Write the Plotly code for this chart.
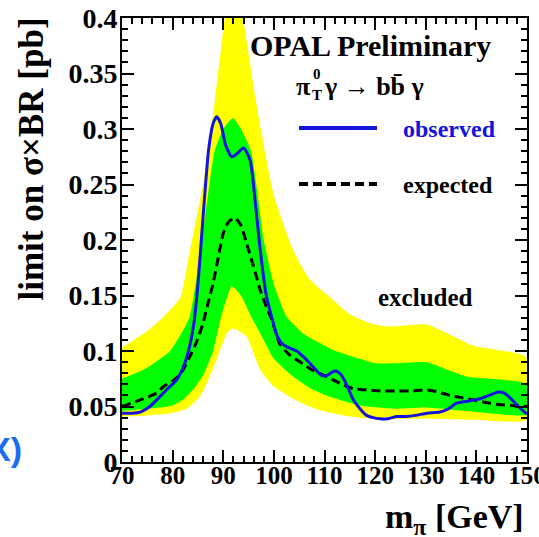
import plotly.graph_objects as go

# Mass points (GeV) and 95% CL limits on sigma x BR (pb)
obs_mass = [70, 72, 73.6, 75.5, 77.5, 79, 80.8, 82.4, 83.4, 84.2, 85, 86, 87.1, 88, 88.7,
            89.5, 90.5, 91.7, 92.8, 94, 95.3, 96.3, 97.3, 98.5, 99.9, 100.6, 101.5, 102.5,
            103.5, 104.5, 105.8, 107.1, 108.3, 109.4, 110.5, 111.5, 112.3, 113.2, 114, 115,
            115.7, 117, 118.3, 119.6, 121, 122.5, 124.3, 126, 128, 130.2, 132.8, 134.5,
            136.1, 138.5, 140.7, 142.5, 144.3, 145.5, 146.6, 148.3, 150]
obs_limit = [0.044, 0.044, 0.045, 0.050, 0.059, 0.066, 0.074, 0.089, 0.105, 0.125, 0.160,
             0.220, 0.281, 0.305, 0.311, 0.305, 0.285, 0.275, 0.278, 0.283, 0.272, 0.235,
             0.191, 0.150, 0.125, 0.114, 0.107, 0.104, 0.102, 0.100, 0.095, 0.089, 0.083,
             0.078, 0.078, 0.081, 0.082, 0.079, 0.073, 0.063, 0.056, 0.048, 0.042, 0.040,
             0.039, 0.039, 0.041, 0.041, 0.042, 0.044, 0.045, 0.048, 0.053, 0.055, 0.057,
             0.060, 0.063, 0.062, 0.058, 0.050, 0.043]

exp_mass = [70, 73.6, 76.8, 78.2, 80, 81.5, 83.4, 84.8, 86, 87.1, 88, 89, 90, 91, 92.3, 93.5,
            94.6, 96, 97.3, 98.5, 99.6, 101.2, 103, 105.2, 107.5, 110.4, 113, 115.7, 118.3,
            121, 124.3, 127, 130.2, 132.5, 134.8, 137, 139.3, 141.4, 144, 147, 150]
exp_limit = [0.050, 0.056, 0.062, 0.068, 0.073, 0.079, 0.095, 0.109, 0.125, 0.145, 0.161,
             0.184, 0.206, 0.216, 0.220, 0.213, 0.197, 0.176, 0.155, 0.140, 0.128, 0.106,
             0.097, 0.090, 0.083, 0.077, 0.071, 0.066, 0.065, 0.064, 0.064, 0.064, 0.065,
             0.063, 0.060, 0.058, 0.056, 0.054, 0.052, 0.051, 0.050]

# +-2 sigma band
band2_up_mass = [70, 75, 78, 81.5, 83.4, 86, 88, 90.3, 92, 93.9, 96.9, 100, 103.8, 107, 111.7,
                 115, 119.6, 123, 130, 139.3, 150]
band2_up = [0.103, 0.118, 0.130, 0.148, 0.190, 0.250, 0.313, 0.400, 0.450, 0.400, 0.313,
            0.240, 0.191, 0.165, 0.146, 0.133, 0.124, 0.122, 0.124, 0.105, 0.094]
band2_lo_mass = [70, 75, 79.5, 82.8, 85.4, 88.7, 90.7, 91.7, 92.8, 94.6, 97.3, 100, 103.8,
                 107, 110.4, 115, 120, 130, 140, 150]
band2_lo = [0.041, 0.042, 0.044, 0.048, 0.059, 0.092, 0.116, 0.120, 0.119, 0.113, 0.083,
            0.068, 0.057, 0.050, 0.045, 0.041, 0.039, 0.039, 0.038, 0.038]

# +-1 sigma band
band1_up_mass = [70, 75, 79.5, 83.3, 85.8, 88.3, 90, 91.9, 93.5, 95.5, 98, 100, 102.5, 106,
                 111.7, 117, 120, 124, 130, 138, 150]
band1_up = [0.075, 0.085, 0.100, 0.130, 0.200, 0.280, 0.300, 0.310, 0.300, 0.280, 0.200,
            0.160, 0.131, 0.115, 0.101, 0.093, 0.089, 0.089, 0.090, 0.077, 0.070]
band1_lo_mass = [70, 75, 80, 82, 84, 86, 88, 89.6, 91.7, 93.5, 95.5, 97.3, 100, 103.8, 107,
                 110.4, 117, 124.3, 130, 140, 150]
band1_lo = [0.046, 0.048, 0.051, 0.056, 0.065, 0.078, 0.100, 0.131, 0.158, 0.150, 0.131,
            0.116, 0.093, 0.077, 0.067, 0.060, 0.051, 0.048, 0.049, 0.045, 0.043]

YELLOW = "#ffff00"
GREEN = "#00ff00"
BLUE = "#1414dc"
SERIF = "Liberation Serif"

fig = go.Figure()

fig.add_trace(go.Scatter(
    x=band2_up_mass + band2_lo_mass[::-1], y=band2_up + band2_lo[::-1],
    fill="toself", fillcolor=YELLOW, mode="lines",
    line=dict(width=0, shape="spline", smoothing=0.5),
    hoverinfo="skip", showlegend=False))
fig.add_trace(go.Scatter(
    x=band1_up_mass + band1_lo_mass[::-1], y=band1_up + band1_lo[::-1],
    fill="toself", fillcolor=GREEN, mode="lines",
    line=dict(width=0, shape="spline", smoothing=0.5),
    hoverinfo="skip", showlegend=False))
fig.add_trace(go.Scatter(
    x=exp_mass, y=exp_limit, mode="lines",
    line=dict(color="black", width=3, dash="9px,5px", shape="spline", smoothing=0.6),
    showlegend=False))
fig.add_trace(go.Scatter(
    x=obs_mass, y=obs_limit, mode="lines",
    line=dict(color=BLUE, width=3, shape="spline", smoothing=0.6),
    showlegend=False))

# plot area in pixels: x 122..527, y 18..462
L, R, T, B = 122, 527, 18, 462


def px(xp):
    return (xp - L) / (R - L)


def py(yp):
    return (B - yp) / (B - T)


axis_common = dict(
    showline=True, linewidth=2, linecolor="black", mirror="ticks",
    ticks="inside", ticklen=12, tickwidth=2, tickcolor="black",
    showgrid=False, zeroline=False, ticklabeloverflow="allow", automargin=False,
)

fig.update_xaxes(range=[70, 150], tickvals=[70, 80, 90, 100, 110, 120, 130, 140, 150],
                 ticklabelstandoff=-10,
                 tickfont=dict(family=SERIF, size=25, color="black", weight="bold"),
                 minor=dict(ticks="inside", ticklen=6, tickwidth=1.5, dtick=2, tick0=70,
                            tickcolor="black", showgrid=False),
                 **axis_common)
fig.update_yaxes(range=[0, 0.4], dtick=0.05, tick0=0, ticklabelstandoff=-3,
                 tickfont=dict(family=SERIF, size=28, color="black", weight="bold"),
                 minor=dict(ticks="inside", ticklen=6, tickwidth=1.5, dtick=0.01,
                            tickcolor="black", showgrid=False),
                 **axis_common)

# legend samples
fig.add_shape(type="line", xref="paper", yref="paper",
              x0=px(299), x1=px(377), y0=py(128), y1=py(128),
              line=dict(color=BLUE, width=4))
fig.add_shape(type="line", xref="paper", yref="paper",
              x0=px(299), x1=px(377), y0=py(184), y1=py(184),
              line=dict(color="black", width=4, dash="9px,5px"))


def note(text, x, y, size, xanchor="left", color="black", **kw):
    fig.add_annotation(text=text, xref="paper", yref="paper", x=px(x), y=py(y),
                       xanchor=xanchor, yanchor="middle", showarrow=False,
                       font=dict(family=SERIF, size=size, color=color, weight="bold"),
                       **kw)


note("OPAL Preliminary", 370, 45, 30, xanchor="center")
note("π", 294, 86, 26)
note("0", 317, 74, 15, xanchor="center")
note("T", 317, 95, 15, xanchor="center")
note("γ → bb\u0304 γ", 322, 86, 26)
note("observed", 401, 129, 24, color=BLUE)
note("expected", 401, 185, 24)
note("excluded", 376, 297, 25)
note("m<sub>π</sub> [GeV]", 526, 519, 34, xanchor="right")

fig.add_annotation(text="limit on σ×BR [pb]", xref="paper", yref="paper",
                   x=px(31), y=py(16), xanchor="center", yanchor="top", textangle=-90,
                   showarrow=False,
                   font=dict(family=SERIF, size=35, color="black", weight="bold"))

fig.add_annotation(text="X)", xref="paper", yref="paper", x=px(24), y=py(449),
                   xanchor="right", yanchor="middle", showarrow=False,
                   font=dict(family="Liberation Sans", size=34, color="#1a6cf0",
                             weight="bold"))

fig.update_layout(
    width=539, height=537,
    margin=dict(l=L, r=539 - R, t=T, b=537 - B, autoexpand=False),
    paper_bgcolor="white", plot_bgcolor="white",
    showlegend=False,
)

fig.write_html("out.html")
